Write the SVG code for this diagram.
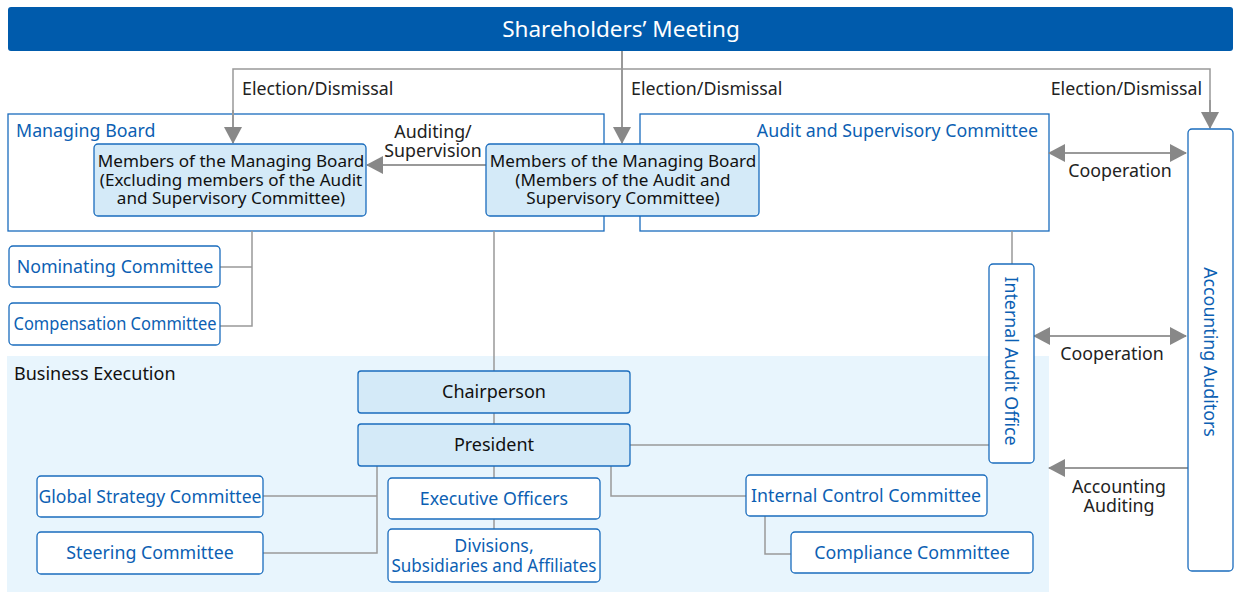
<svg xmlns="http://www.w3.org/2000/svg" width="1235" height="592" viewBox="0 0 1235 592">
<style>
text{font-family:"Noto Sans","Liberation Sans",sans-serif;}
.lbl{font-size:17.8px;fill:#222;}
.blue{fill:#0c5fb3;font-size:17.8px;}
.blk{fill:#111;font-size:18px;}
.mem{fill:#111;font-size:17.1px;}
.frame{fill:#fff;stroke:#1a6cbd;stroke-width:1.3;}
.wbox{fill:#fff;stroke:#1a6cbd;stroke-width:1.3;}
.lbox{fill:#d4eaf8;stroke:#1a6cbd;stroke-width:1.3;}
.ln{fill:none;stroke:#999;stroke-width:1.5;}
.arr{fill:none;stroke:#999;stroke-width:2;}
</style>
<defs>
<marker id="ah" markerUnits="userSpaceOnUse" markerWidth="17" markerHeight="18" viewBox="0 0 17 18" refX="16" refY="9" orient="auto-start-reverse"><path d="M0,0 L17,9 L0,18 z" fill="#888"/></marker>
</defs>
<rect x="7" y="356" width="1042" height="236" fill="#e8f5fd"/>
<g id="shareholders"><rect x="8" y="7" width="1225" height="44" rx="3" fill="#005bac"/><text x="621" y="36.5" text-anchor="middle" fill="#fff" font-size="22.5">Shareholders’ Meeting</text></g>
<g id="managing-board"><rect class="frame" x="8" y="114" width="596" height="117"/><text class="blue" x="16" y="137">Managing Board</text></g>
<g id="audit-committee"><rect class="frame" x="640" y="114" width="409" height="117"/><text class="blue" x="1038" y="137" text-anchor="end">Audit and Supervisory Committee</text></g>
<g id="connectors">
<path class="ln" d="M233,128 V69 H1210 V114"/>
<path class="arr" d="M233,110 V143" marker-end="url(#ah)"/>
<path class="arr" d="M622,51 V143" marker-end="url(#ah)"/>
<path class="arr" d="M1210,100 V128" marker-end="url(#ah)"/>
<path class="arr" d="M486,165 H367" marker-end="url(#ah)"/>
<path class="arr" d="M1049,153 H1186" marker-start="url(#ah)" marker-end="url(#ah)"/>
<path class="arr" d="M1034,336 H1186" marker-start="url(#ah)" marker-end="url(#ah)"/>
<path class="arr" d="M1188,468 H1049" marker-end="url(#ah)"/>
<path class="ln" d="M252,231 V326 H220 M252,267 H220"/>
<path class="ln" d="M494,231 V371 M494,413 V424 M494,466 V478 M494,519 V529"/>
<path class="ln" d="M1012,231 V264"/>
<path class="ln" d="M630,445 H989"/>
<path class="ln" d="M377,466 V553 H263 M377,496 H263"/>
<path class="ln" d="M611,466 V496 H746"/>
<path class="ln" d="M765,516 V554 H791"/>
</g>
<g id="edge-labels">
<text class="lbl" x="242" y="95">Election/Dismissal</text>
<text class="lbl" x="631" y="95">Election/Dismissal</text>
<text class="lbl" x="1202" y="95" text-anchor="end">Election/Dismissal</text>
<text class="lbl" x="433" y="138" text-anchor="middle">Auditing/</text>
<text class="lbl" x="433" y="157" text-anchor="middle">Supervision</text>
<text class="lbl" x="1120" y="177" text-anchor="middle">Cooperation</text>
<text class="lbl" x="1112" y="360" text-anchor="middle">Cooperation</text>
<text class="lbl" x="1119" y="493" text-anchor="middle">Accounting</text>
<text class="lbl" x="1119" y="512" text-anchor="middle">Auditing</text>
</g>
<g id="members-mb"><rect class="lbox" x="94" y="144" width="272" height="72" rx="4"/><text class="mem" text-anchor="middle" x="231"><tspan x="231" y="167">Members of the Managing Board</tspan><tspan x="231" y="186">(Excluding members of the Audit</tspan><tspan x="231" y="204">and Supervisory Committee)</tspan></text></g>
<g id="members-asc"><rect class="lbox" x="486" y="144" width="273" height="72" rx="4"/><text class="mem" text-anchor="middle" x="623"><tspan x="623" y="167">Members of the Managing Board</tspan><tspan x="623" y="186">(Members of the Audit and</tspan><tspan x="623" y="204">Supervisory Committee)</tspan></text></g>
<g id="nominating"><rect class="wbox" x="9" y="246" width="211" height="41" rx="4"/><text class="blue" x="115" y="273" text-anchor="middle">Nominating Committee</text></g>
<g id="compensation"><rect class="wbox" x="9" y="303" width="211" height="42" rx="4"/><text class="blue" x="115" y="330" text-anchor="middle" textLength="203" lengthAdjust="spacingAndGlyphs">Compensation Committee</text></g>
<g id="internal-audit"><rect class="wbox" x="989" y="264" width="45" height="199" rx="4"/><text class="blue" transform="translate(1005,361) rotate(90)" text-anchor="middle" font-size="18.3">Internal Audit Office</text></g>
<g id="accounting-auditors"><rect class="wbox" x="1188" y="129" width="45" height="442" rx="4"/><text class="blue" transform="translate(1204,352) rotate(90)" text-anchor="middle" font-size="18.3">Accounting Auditors</text></g>
<text class="blk" x="14" y="380">Business Execution</text>
<g id="chairperson"><rect class="lbox" x="358" y="371" width="272" height="42" rx="3"/><text class="blk" x="494" y="398" text-anchor="middle">Chairperson</text></g>
<g id="president"><rect class="lbox" x="358" y="424" width="272" height="42" rx="3"/><text class="blk" x="494" y="451" text-anchor="middle">President</text></g>
<g id="global-strategy"><rect class="wbox" x="37" y="476" width="226" height="41" rx="4"/><text class="blue" x="150" y="503" text-anchor="middle" textLength="223" lengthAdjust="spacingAndGlyphs">Global Strategy Committee</text></g>
<g id="steering"><rect class="wbox" x="37" y="532" width="226" height="42" rx="4"/><text class="blue" x="150" y="559" text-anchor="middle">Steering Committee</text></g>
<g id="executive-officers"><rect class="wbox" x="388" y="478" width="212" height="41" rx="4"/><text class="blue" x="494" y="505" text-anchor="middle">Executive Officers</text></g>
<g id="divisions"><rect class="wbox" x="388" y="529" width="212" height="53" rx="4"/><text class="blue" x="494" y="552" text-anchor="middle">Divisions,</text><text class="blue" x="494" y="572" text-anchor="middle" textLength="205" lengthAdjust="spacingAndGlyphs">Subsidiaries and Affiliates</text></g>
<g id="internal-control"><rect class="wbox" x="746" y="475" width="241" height="41" rx="4"/><text class="blue" x="866" y="502" text-anchor="middle">Internal Control Committee</text></g>
<g id="compliance"><rect class="wbox" x="791" y="532" width="242" height="41" rx="4"/><text class="blue" x="912" y="559" text-anchor="middle">Compliance Committee</text></g>
</svg>
